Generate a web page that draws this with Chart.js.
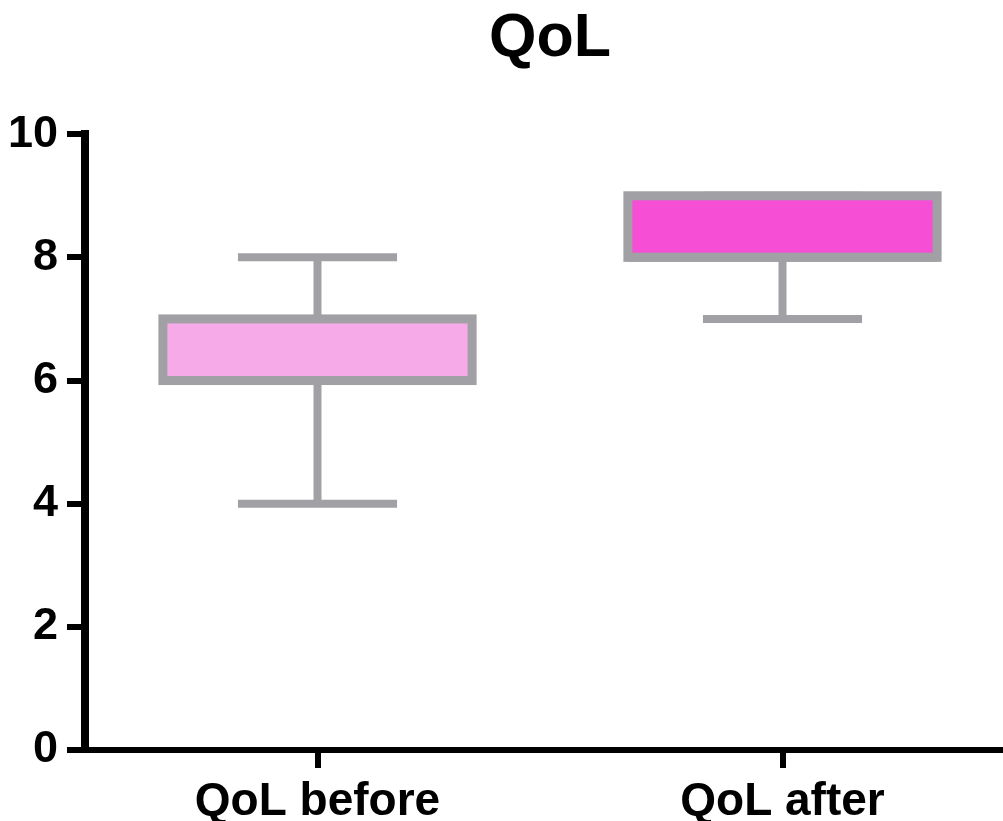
<!DOCTYPE html>
<html>
<head>
<meta charset="utf-8">
<title>QoL</title>
<script src="https://cdn.jsdelivr.net/npm/chart.js@4"></script>
<style>
  html, body { margin: 0; padding: 0; background: #fff; overflow: hidden; }
  #wrap { position: absolute; left: 0; top: 0; width: 1015px; height: 821px; }
</style>
</head>
<body>
<div id="wrap"><canvas id="chart" width="1015" height="821"></canvas></div>
<script>
// Box plot of QoL scores, before vs after.
const categories = ["QoL before", "QoL after"];
const whiskerMin = [4, 7];
const quartile1  = [6, 8];
const medians    = [6, 8];
const quartile3  = [7, 9];
const whiskerMax = [8, 9];
const boxColors  = ["#F6AAE7", "#F64FD6"];
const yTicks     = [0, 2, 4, 6, 8, 10];

const GRAY = "#A1A0A5";
const FONT = "'Liberation Sans', Arial, sans-serif";

// whiskers, caps and box outline, placed through the chart's own scales
const boxOutline = {
  id: "boxOutline",
  afterDatasetsDraw(chart) {
    const ctx = chart.ctx;
    const y = chart.scales.y;
    const meta = chart.getDatasetMeta(0);
    ctx.save();
    ctx.strokeStyle = GRAY;
    ctx.lineCap = "butt";
    meta.data.forEach((bar, i) => {
      const x = bar.x;
      const half = bar.width / 2;
      const cap = (bar.width + 9) / 4;
      ctx.lineWidth = 8;
      ctx.beginPath();
      ctx.moveTo(x, y.getPixelForValue(quartile3[i]));
      ctx.lineTo(x, y.getPixelForValue(whiskerMax[i]));
      ctx.moveTo(x, y.getPixelForValue(quartile1[i]));
      ctx.lineTo(x, y.getPixelForValue(whiskerMin[i]));
      ctx.moveTo(x - cap, y.getPixelForValue(whiskerMax[i]));
      ctx.lineTo(x + cap, y.getPixelForValue(whiskerMax[i]));
      ctx.moveTo(x - cap, y.getPixelForValue(whiskerMin[i]));
      ctx.lineTo(x + cap, y.getPixelForValue(whiskerMin[i]));
      ctx.stroke();
      const top = y.getPixelForValue(quartile3[i]);
      const bottom = y.getPixelForValue(quartile1[i]);
      ctx.lineWidth = 9;
      ctx.strokeRect(x - half, top, half * 2, bottom - top);
      ctx.beginPath();
      ctx.moveTo(x - half, y.getPixelForValue(medians[i]));
      ctx.lineTo(x + half, y.getPixelForValue(medians[i]));
      ctx.stroke();
    });
    ctx.restore();
  }
};

new Chart(document.getElementById("chart"), {
  type: "bar",
  data: {
    labels: categories,
    datasets: [{
      data: categories.map((c, i) => [quartile1[i], quartile3[i]]),
      backgroundColor: boxColors,
      borderWidth: 0,
      barPercentage: 0.665,
      categoryPercentage: 1,
    }],
  },
  options: {
    responsive: false,
    animation: false,
    layout: { padding: 0 },
    plugins: {
      legend: { display: false },
      tooltip: { enabled: false },
      title: {
        display: true,
        fullSize: false,
        text: "QoL",
        color: "#000",
        font: { family: FONT, size: 61, weight: "bold" },
        padding: { top: 3, bottom: 58 },
      },
    },
    scales: {
      x: {
        offset: true,
        afterFit: (scale) => { scale.height = 71; },
        grid: { offset: false, drawOnChartArea: false, drawTicks: true, tickLength: 18, color: "#000", lineWidth: 6 },
        border: { display: true, color: "#000", width: 6 },
        ticks: { color: "#000", padding: 11, font: { family: FONT, size: 46, weight: "bold", lineHeight: 1.0 } },
      },
      y: {
        min: 0,
        max: 10,
        afterFit: (scale) => { scale.width = 85; },
        afterBuildTicks: (scale) => { scale.ticks = yTicks.map(v => ({ value: v })); },
        grid: { drawOnChartArea: false, drawTicks: true, tickLength: 18, color: "#000", lineWidth: 6 },
        border: { display: true, color: "#000", width: 8 },
        ticks: { color: "#000", padding: 9, font: { family: FONT, size: 45, weight: "bold", lineHeight: 1.0 } },
      },
    },
  },
  plugins: [boxOutline],
});
</script>
</body>
</html>
